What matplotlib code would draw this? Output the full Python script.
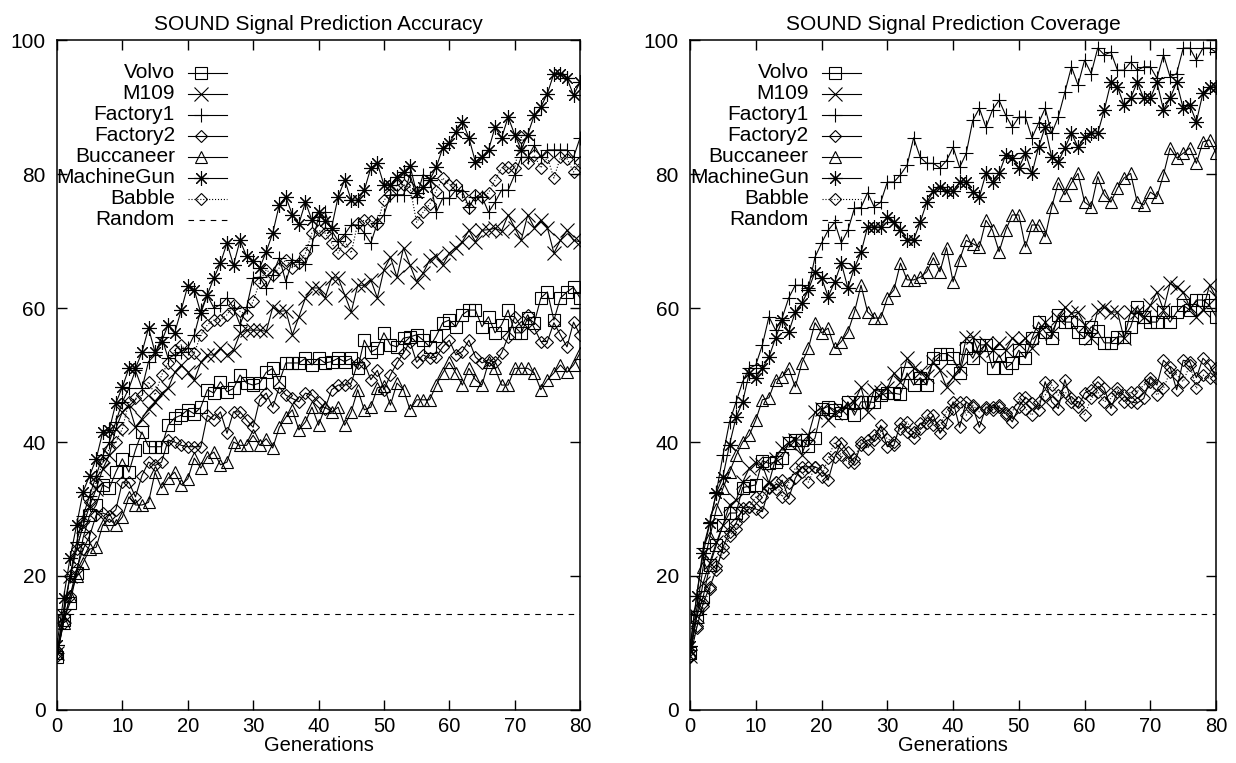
import matplotlib
matplotlib.use("Agg")
import matplotlib.pyplot as plt

plt.rcParams['font.family'] = ['Liberation Sans', 'DejaVu Sans']

generations = list(range(81))
series_names = ['Volvo', 'M109', 'Factory1', 'Factory2', 'Buccaneer',
                'MachineGun', 'Babble', 'Random']
random_level = 14.29

# --- accuracy (left panel) ---
acc_volvo = [7.9, 13.4, 16.0, 20.4, 25.7, 29.1, 30.6, 33.6, 33.1, 35.5,
             37.5, 35.5, 38.8, 41.5, 39.3, 39.3, 39.3, 42.5, 43.6, 44.0,
             44.8, 44.2, 45.2, 47.8, 47.3, 49.0, 47.5, 48.0, 50.0, 48.8,
             48.5, 48.8, 50.4, 51.0, 49.0, 51.8, 51.8, 51.8, 52.5, 51.5,
             52.5, 51.8, 52.0, 52.5, 52.0, 52.5, 51.0, 55.2, 53.4, 54.0,
             56.3, 54.5, 54.2, 55.5, 55.7, 56.0, 55.2, 54.2, 55.8, 57.8,
             58.2, 57.2, 59.0, 59.7, 59.7, 57.2, 58.7, 56.3, 57.5, 59.7,
             56.3, 56.3, 58.5, 57.8, 61.5, 62.4, 58.2, 61.5, 62.4, 63.1,
             61.5]
acc_m109 = [8.5, 14.0, 20.0, 24.0, 27.5, 30.5, 33.0, 36.0, 38.0, 42.0,
            44.5, 45.5, 42.2, 43.5, 45.0, 46.0, 47.3, 48.0, 50.4, 51.5,
            50.5, 49.2, 51.9, 53.0, 53.0, 54.0, 53.0, 53.7, 56.2, 56.7,
            56.7, 56.7, 56.5, 60.1, 59.5, 59.6, 56.0, 58.7, 61.5, 63.0,
            63.0, 61.5, 64.5, 64.5, 62.0, 59.4, 63.4, 63.4, 64.2, 61.5,
            65.7, 67.6, 64.6, 69.0, 66.4, 63.9, 65.2, 67.2, 67.8, 66.4,
            68.2, 69.0, 69.9, 71.6, 69.9, 71.6, 71.7, 71.9, 71.5, 73.9,
            72.0, 70.1, 73.9, 72.0, 73.1, 72.0, 68.2, 70.1, 71.6, 70.1,
            69.9]
acc_factory1 = [8.5, 15.0, 20.0, 25.0, 29.0, 32.0, 35.0, 38.0, 40.0, 43.0,
                46.0, 48.0, 50.7, 48.0, 52.0, 53.0, 55.7, 52.5, 53.0, 53.5,
                54.0, 56.0, 59.7, 61.9, 60.0, 60.5, 61.5, 60.0, 57.5, 60.1,
                64.5, 64.6, 63.0, 65.0, 67.5, 63.9, 67.2, 66.9, 66.5, 69.4,
                73.6, 74.3, 71.6, 70.0, 71.0, 72.4, 72.4, 71.2, 69.7, 72.7,
                73.9, 76.9, 76.9, 76.9, 79.9, 76.6, 79.9, 79.4, 74.3, 76.4,
                76.4, 77.6, 77.4, 75.1, 76.6, 76.6, 74.3, 75.8, 77.6, 77.6,
                79.9, 82.5, 82.5, 84.3, 82.5, 83.6, 83.6, 83.6, 83.6, 82.5,
                85.4]
acc_factory2 = [8.0, 13.0, 17.0, 21.0, 24.0, 26.0, 29.1, 29.4, 29.0, 29.9,
                34.0, 34.0, 31.8, 35.0, 37.0, 36.5, 37.0, 40.3, 40.0, 39.5,
                39.3, 39.3, 39.3, 44.0, 43.3, 44.5, 41.3, 44.5, 44.5, 43.3,
                42.2, 46.3, 47.3, 45.2, 48.2, 47.0, 46.5, 46.0, 47.3, 47.0,
                46.0, 45.0, 47.8, 48.5, 48.5, 48.8, 51.8, 51.8, 49.3, 50.7,
                47.8, 50.0, 51.8, 53.3, 55.0, 51.9, 53.0, 52.5, 52.7, 54.2,
                55.2, 53.0, 53.5, 55.2, 52.7, 51.8, 52.3, 51.9, 53.3, 55.7,
                58.7, 57.2, 59.0, 57.0, 55.0, 55.0, 57.8, 56.0, 54.2, 57.9,
                56.0]
acc_buccaneer = [8.5, 13.0, 17.0, 20.0, 22.0, 24.0, 24.3, 27.6, 28.5, 27.6,
                 28.8, 31.8, 30.6, 30.6, 31.0, 35.5, 33.1, 34.6, 35.5, 33.6,
                 34.5, 37.6, 36.1, 37.8, 38.5, 36.6, 37.0, 40.0, 39.5, 39.5,
                 41.0, 39.5, 40.5, 39.1, 42.2, 43.7, 44.8, 41.8, 43.0, 45.2,
                 42.5, 45.2, 44.5, 45.2, 42.5, 44.5, 47.8, 44.8, 45.2, 48.1,
                 48.3, 45.5, 48.8, 47.8, 44.8, 46.3, 46.3, 46.3, 48.5, 50.3,
                 51.9, 50.3, 48.5, 51.0, 49.3, 48.5, 51.9, 51.0, 48.5, 48.5,
                 51.0, 51.0, 51.0, 50.3, 47.8, 49.3, 50.3, 51.5, 50.4, 51.5,
                 53.3]
acc_machinegun = [9.7, 16.7, 22.7, 27.6, 32.6, 35.0, 37.5, 41.5, 41.8, 45.8,
                  48.2, 51.0, 51.0, 53.4, 57.0, 53.4, 55.0, 57.5, 56.3, 59.7,
                  63.3, 62.7, 59.2, 62.0, 64.5, 66.7, 69.7, 66.4, 70.1, 67.7,
                  67.0, 66.0, 68.4, 71.2, 75.4, 76.6, 73.9, 72.6, 75.8, 73.1,
                  74.4, 73.0, 72.0, 76.6, 79.1, 76.1, 76.1, 77.6, 80.9, 81.6,
                  78.4, 78.4, 79.6, 80.3, 81.2, 77.2, 78.0, 79.1, 81.0, 83.9,
                  84.6, 86.3, 87.8, 85.4, 81.8, 82.6, 83.6, 87.0, 85.4, 88.5,
                  85.9, 83.6, 85.9, 88.8, 90.0, 92.0, 95.0, 95.0, 94.3, 91.8,
                  93.7]
acc_babble = [8.5, 14.0, 20.0, 24.0, 28.0, 31.0, 34.0, 37.0, 39.0, 40.0,
              42.0, 46.0, 46.5, 47.0, 49.0, 47.0, 50.0, 51.8, 53.7, 54.5,
              53.3, 53.3, 56.0, 57.5, 58.2, 58.2, 59.0, 60.4, 59.5, 59.0,
              61.0, 63.9, 65.7, 65.0, 66.0, 67.2, 66.0, 66.7, 68.2, 71.2,
              71.6, 71.2, 69.7, 68.2, 70.0, 68.2, 72.7, 73.1, 73.0, 72.5,
              76.1, 77.0, 78.4, 78.4, 78.0, 72.8, 74.3, 75.5, 77.5, 79.4,
              78.4, 78.4, 76.9, 74.9, 76.9, 76.5, 77.2, 79.1, 80.9, 81.0,
              80.9, 85.5, 81.6, 82.8, 80.9, 82.5, 79.4, 82.5, 82.3, 80.3,
              81.8]

# --- coverage (right panel) ---
cov_volvo = [8.5, 13.9, 16.9, 21.6, 24.6, 27.6, 29.4, 29.4, 33.2, 33.4,
             33.6, 37.2, 36.8, 37.0, 37.6, 39.8, 40.3, 40.3, 39.4, 40.6,
             44.9, 45.3, 44.8, 44.3, 46.0, 44.0, 46.0, 46.0, 45.9, 47.0,
             47.3, 47.3, 47.1, 50.3, 48.5, 49.6, 48.5, 52.5, 53.2, 53.2,
             52.5, 50.3, 54.0, 52.5, 54.5, 54.5, 51.0, 53.0, 51.0, 51.8,
             53.7, 52.5, 55.5, 57.9, 56.4, 55.5, 59.0, 57.9, 57.9, 56.4,
             55.5, 57.2, 56.5, 54.8, 54.8, 55.7, 55.7, 57.2, 60.2, 58.7,
             57.9, 57.9, 59.4, 57.9, 59.4, 60.4, 59.7, 61.2, 61.2, 60.4,
             58.7]
cov_m109 = [8.0, 14.0, 19.0, 22.0, 25.0, 27.6, 30.6, 31.3, 34.0, 36.1,
            36.9, 36.5, 33.9, 37.5, 39.1, 39.9, 40.3, 38.1, 41.0, 44.5,
            45.0, 43.3, 44.3, 45.0, 45.5, 46.0, 48.2, 44.5, 47.8, 47.5,
            48.0, 50.3, 49.0, 52.5, 51.0, 50.5, 49.8, 51.9, 50.7, 48.2,
            49.7, 51.0, 55.5, 55.7, 53.0, 54.8, 53.7, 54.8, 53.7, 55.5,
            54.6, 55.5, 54.0, 56.4, 57.9, 56.3, 58.5, 60.1, 59.2, 59.4,
            57.5, 55.5, 59.7, 60.1, 59.4, 59.4, 55.5, 59.4, 59.4, 58.7,
            60.4, 62.4, 59.7, 63.7, 63.1, 62.4, 60.1, 58.7, 59.7, 63.4,
            61.6]
cov_factory1 = [9.0, 17.0, 24.2, 28.0, 32.5, 38.0, 43.0, 46.0, 49.0, 51.0,
                51.5, 54.5, 58.7, 56.7, 58.5, 61.5, 63.4, 63.4, 63.0, 67.6,
                69.7, 71.6, 72.8, 69.7, 71.6, 74.9, 75.0, 77.2, 75.1, 75.8,
                78.8, 78.8, 79.9, 81.3, 85.4, 82.5, 81.6, 81.6, 80.9, 82.0,
                84.0, 81.0, 83.1, 88.0, 89.8, 87.0, 89.6, 91.0, 88.8, 87.0,
                88.5, 88.5, 85.4, 87.6, 89.8, 86.1, 88.5, 92.2, 96.0, 93.3,
                97.0, 95.0, 98.8, 97.8, 98.2, 95.5, 95.5, 96.7, 95.5, 96.0,
                96.0, 94.3, 97.8, 94.5, 95.0, 98.8, 98.8, 97.0, 98.8, 98.8,
                98.2]
cov_factory2 = [7.9, 12.2, 16.0, 18.4, 20.9, 24.3, 26.6, 27.9, 30.1, 30.3,
                30.0, 29.6, 33.1, 33.0, 34.3, 31.6, 34.6, 36.3, 36.3, 36.3,
                35.8, 34.3, 37.8, 39.9, 38.5, 36.9, 39.6, 40.3, 40.3, 42.5,
                39.3, 39.5, 42.8, 41.5, 40.6, 42.8, 42.8, 44.0, 41.3, 42.8,
                46.0, 42.2, 46.0, 45.2, 42.2, 45.2, 45.2, 45.2, 44.3, 43.0,
                45.2, 46.7, 45.8, 44.8, 49.0, 46.0, 45.0, 49.3, 46.0, 45.2,
                47.3, 47.8, 49.0, 48.0, 45.0, 47.5, 47.0, 46.0, 45.8, 46.5,
                49.6, 48.5, 52.2, 51.2, 47.8, 52.2, 52.0, 49.6, 52.5, 51.5,
                49.6]
cov_buccaneer = [8.5, 15.0, 21.4, 25.8, 30.0, 33.1, 35.5, 38.0, 40.0, 41.0,
                 43.3, 46.3, 46.6, 49.3, 49.7, 51.0, 48.2, 51.8, 54.0, 57.8,
                 56.3, 57.0, 54.0, 55.0, 56.4, 59.4, 63.4, 59.4, 58.5, 58.5,
                 61.5, 62.7, 66.7, 64.2, 64.2, 64.6, 65.4, 67.5, 65.4, 69.0,
                 63.9, 67.2, 70.1, 69.6, 69.1, 73.1, 71.6, 68.4, 71.6, 73.9,
                 73.9, 69.1, 72.4, 72.4, 70.6, 75.1, 78.7, 76.9, 78.7, 80.1,
                 75.8, 75.1, 79.6, 76.9, 75.8, 77.9, 79.4, 80.1, 75.8, 75.4,
                 77.3, 76.6, 79.9, 83.9, 82.4, 83.1, 83.9, 81.6, 84.8, 85.1,
                 83.1]
cov_machinegun = [9.5, 17.0, 23.4, 27.9, 32.4, 34.8, 39.6, 43.7, 46.0, 50.3,
                  49.6, 51.0, 52.7, 55.5, 58.2, 56.4, 59.4, 60.7, 62.7, 65.4,
                  64.5, 61.7, 63.9, 66.7, 63.0, 66.0, 68.3, 72.1, 72.1, 72.1,
                  73.6, 72.8, 71.6, 70.2, 70.2, 72.8, 75.8, 77.4, 78.1, 77.4,
                  77.5, 78.8, 78.8, 77.3, 76.6, 80.1, 78.8, 80.1, 82.8, 82.4,
                  80.9, 83.1, 80.1, 84.0, 87.0, 82.5, 81.8, 83.9, 86.1, 84.0,
                  85.5, 86.1, 86.1, 89.6, 93.7, 93.0, 90.3, 91.3, 93.7, 91.3,
                  91.3, 93.7, 89.6, 91.3, 93.7, 89.8, 90.3, 87.8, 92.1, 93.0,
                  93.0]
cov_babble = [8.0, 12.5, 15.5, 18.0, 21.5, 23.5, 26.0, 27.0, 29.0, 30.3,
              31.8, 31.8, 33.3, 34.0, 31.8, 33.9, 36.1, 35.5, 34.0, 36.3,
              34.8, 37.6, 40.0, 38.0, 37.0, 37.5, 40.0, 39.0, 41.0, 41.5,
              40.5, 40.0, 42.0, 43.0, 41.5, 42.0, 44.0, 42.5, 42.5, 44.5,
              45.0, 46.0, 44.0, 45.5, 44.5, 45.0, 44.8, 45.5, 44.0, 44.5,
              46.5, 45.0, 44.0, 46.0, 47.0, 48.5, 47.0, 47.5, 46.5, 46.0,
              44.0, 46.5, 47.5, 46.0, 46.5, 48.0, 46.0, 47.5, 47.5, 48.5,
              49.0, 47.0, 48.0, 50.5, 50.0, 49.0, 51.5, 48.0, 50.0, 49.5,
              51.0]

accuracy = [acc_volvo, acc_m109, acc_factory1, acc_factory2, acc_buccaneer,
            acc_machinegun, acc_babble]
coverage = [cov_volvo, cov_m109, cov_factory1, cov_factory2, cov_buccaneer,
            cov_machinegun, cov_babble]

# gnuplot-like point types
styles = [
    dict(marker='s', ms=8.5, ls='-'),
    dict(marker='x', ms=9.5, ls='-'),
    dict(marker='+', ms=10.5, ls='-'),
    dict(marker='D', ms=6.2, ls='-'),
    dict(marker='^', ms=8.5, ls='-'),
    dict(marker=(8, 2, 0), ms=10.5, ls='-'),
    dict(marker='D', ms=6.2, ls=':'),
]
LW = 0.8
FS = 14.5


def draw_panel(ax, data, title):
    for vals, st in zip(data, styles):
        ax.plot(generations, vals, color='black', lw=LW, ls=st['ls'],
                marker=st['marker'], ms=st['ms'], mfc='none', mec='black',
                mew=0.8)
    ax.plot(generations, [random_level] * len(generations), color='black',
            lw=LW, dashes=(5, 5))

    # key, gnuplot style: right aligned text with sample to the right
    for i, name in enumerate(series_names):
        y = 0.951 - i * 0.0313
        ax.text(0.2256, y, name, transform=ax.transAxes, ha='right',
                va='center', fontsize=FS + 0.5)
        if i < len(styles):
            st = styles[i]
            ax.plot([0.2505, 0.325], [y, y], transform=ax.transAxes,
                    color='black', lw=LW, ls=st['ls'])
            ax.plot([0.275], [y], transform=ax.transAxes, color='black',
                    marker=st['marker'], ms=st['ms'], mfc='none', mec='black',
                    mew=0.8, ls='none')
        else:
            ax.plot([0.2505, 0.325], [y, y], transform=ax.transAxes,
                    color='black', lw=LW, dashes=(5, 5))

    ax.set_xlim(0, 80)
    ax.set_ylim(0, 100)
    ax.set_xticks(range(0, 81, 10))
    ax.set_yticks(range(0, 101, 20))
    ax.tick_params(direction='in', top=True, right=True, length=7, width=1,
                   labelsize=FS)
    ax.tick_params(axis='x', pad=5)
    ax.tick_params(axis='y', pad=8, labelsize=FS + 0.5)
    for sp in ax.spines.values():
        sp.set_linewidth(1.1)
    ax.set_title(title, fontsize=FS + 0.5, pad=7)
    ax.set_xlabel('Generations', fontsize=FS, labelpad=0)


fig = plt.figure(figsize=(12.36, 7.63), dpi=100)
ax1 = fig.add_axes([0.0461, 0.0695, 0.4232, 0.878])
ax2 = fig.add_axes([0.5583, 0.0695, 0.4256, 0.878])
draw_panel(ax1, accuracy, 'SOUND Signal Prediction Accuracy')
draw_panel(ax2, coverage, 'SOUND Signal Prediction Coverage')

fig.savefig('out.png', dpi=100)
